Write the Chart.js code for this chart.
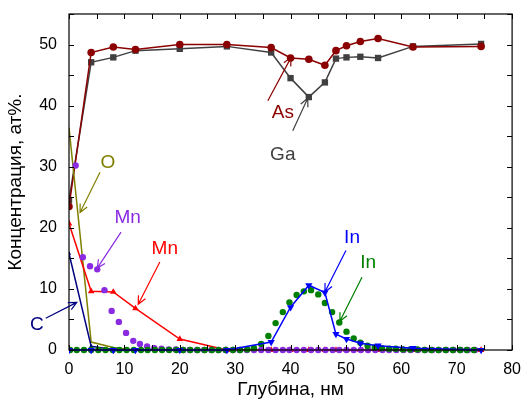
<!DOCTYPE html>
<html>
<head>
<meta charset="utf-8">
<script src="https://cdn.jsdelivr.net/npm/chart.js@4"></script>
<style>
  html, body { margin: 0; padding: 0; background: #fff; }
  #wrap { width: 523px; height: 405px; }
</style>
</head>
<body>
<div id="wrap"><canvas id="chart" width="523" height="405"></canvas></div>
<script>
// depth grid (nm) for the line series
const depth = [0, 4, 8, 12, 20, 28.5, 36.5, 40, 43.3, 46.2, 48.2, 50.1, 52.6, 55.8, 62.1, 74.4];
const asVals = [23.5, 48.7, 49.6, 49.2, 50.0, 50.0, 49.5, 47.8, 47.6, 46.6, 49.0, 49.8, 50.5, 51.0, 49.6, 49.7];
const gaVals = [24.5, 47.1, 47.9, 49.0, 49.3, 49.7, 48.7, 44.5, 41.4, 43.8, 47.7, 47.9, 48.0, 47.8, 49.7, 50.1];
const mnLine = [20.7, 9.6, 9.5, 6.8, 1.8, 0, 0, 0, 0, 0, 0, 0, 0, 0, 0, 0];
const inLine = [0, 0, 0, 0, 0, 0, 1.3, 7.0, 10.6, 9.4, 2.6, 1.8, 1.1, 0.7, 0.3, 0.0];

const cDepth = [0, 4, 8, 12];
const cVals = [15.8, 0.6, 0.1, 0];
const oVals = [36.4, 1.3, 0.4, 0];

// dotted (simulated) profiles
const inDotX = [0.2, 1.4, 2.7, 4.0, 5.3, 6.6, 7.9, 9.1, 10.4, 11.7, 13.0, 14.2, 15.5, 16.8, 18.1, 19.4, 20.6, 21.9, 23.2, 24.5,
  25.8, 27.0, 28.3, 29.6, 30.9, 32.2, 33.4, 34.7, 36.0, 37.3, 38.6, 39.8, 41.1, 42.4, 43.7, 45.0, 46.2, 47.5, 48.8, 50.1,
  51.4, 52.6, 53.9, 55.2, 56.5, 57.8, 59.0, 60.3, 61.6, 62.9, 64.2, 65.4, 66.7, 68.0, 69.3, 70.6, 71.8, 73.1];
const inDotY = [0, 0, 0, 0, 0, 0, 0, 0, 0, 0, 0, 0, 0, 0, 0, 0, 0, 0, 0, 0,
  0, 0, 0, 0, 0, 0.1, 0.3, 1.0, 2.3, 4.4, 6.2, 7.8, 9.0, 9.6, 9.8, 9.1, 7.7, 6.2, 4.5, 3.0,
  1.9, 1.2, 0.7, 0.4, 0.3, 0.2, 0.2, 0.1, 0.1, 0.1, 0, 0, 0, 0, 0, 0, 0, 0];
const mnDotX = [1.2, 2.5, 3.8, 5.1, 6.4, 7.7, 9.0, 10.3, 11.6, 12.8, 14.1, 15.4, 16.7, 18.0, 19.3, 20.6, 21.8, 23.1, 24.4, 25.7,
  27.0, 28.3, 29.6, 30.8, 32.1, 33.4, 34.7, 36.0, 37.3, 38.6, 39.8, 41.1, 42.4, 43.7, 45.0, 46.3, 47.6, 48.8, 50.1, 51.4,
  52.7, 54.0, 55.3, 56.6, 57.8, 59.1, 60.4, 61.7, 63.0, 64.3, 65.6, 66.8, 68.1, 69.4, 70.7, 72.0, 73.3];
const mnDotY = [30.2, 15.2, 13.7, 13.2, 9.8, 6.4, 4.6, 2.8, 1.5, 1.0, 0.6, 0.3, 0.2, 0.1, 0.1, 0, 0, 0, 0, 0,
  0, 0, 0, 0, 0, 0, 0, 0, 0, 0, 0, 0, 0, 0, 0, 0, 0, 0, 0, 0,
  0, 0, 0, 0, 0, 0, 0, 0, 0, 0, 0, 0, 0, 0, 0, 0, 0];

const xTicks = [0, 10, 20, 30, 40, 50, 60, 70, 80];
const yTicks = [0, 10, 20, 30, 40, 50];

// text labels with arrows, in data units: [text, color, tx, ty, x1, y1, x2, y2]
const notes = [
  ['As', '#8b0000', 38.6, 38.9, 35.9, 40.8, 40.1, 47.9],
  ['Ga', '#404040', 38.6, 31.9, 40.4, 35.9, 43.1, 41.2],
  ['O',  '#808000', 7.0, 30.7, 5.6, 29.1, 2.0, 22.5],
  ['Mn', '#8a2be2', 10.6, 21.6, 9.4, 19.3, 5.1, 13.4],
  ['Mn', '#ff0000', 17.3, 16.5, 16.4, 14.4, 12.5, 7.5],
  ['C',  '#000080', -5.8, 4.1, -4.2, 5.2, 1.4, 7.8],
  ['In', '#0000ff', 51.1, 18.3, 50.0, 16.3, 46.2, 9.5],
  ['In', '#008000', 54.0, 14.2, 52.9, 11.9, 48.9, 4.7],
];

const FONT = '"Liberation Sans", Arial, sans-serif';
const CLIP = { left: 0, top: false, right: false, bottom: false };

function pts(xs, ys) { return ys.map((y, i) => ({ x: xs[i], y })); }

function lineSet(xs, ys, color, shape, r, extra) {
  return Object.assign({
    data: pts(xs, ys),
    showLine: true,
    borderColor: color,
    backgroundColor: color,
    borderWidth: 1.5,
    pointStyle: shape,
    pointRadius: r,
    pointBorderWidth: 0,
    clip: CLIP,
  }, extra || {});
}

// frame, inward ticks and annotations
const framePlugin = {
  id: 'frame',
  afterDraw(chart) {
    const { ctx, chartArea: a, scales } = chart;
    const sx = scales.x, sy = scales.y;
    ctx.save();
    ctx.strokeStyle = '#000';
    ctx.lineWidth = 1.2;
    ctx.strokeRect(a.left, a.top, a.right - a.left, a.bottom - a.top);
    ctx.lineWidth = 1;
    ctx.beginPath();
    for (let v = 0; v <= 80; v += 5) {
      const px = Math.round(sx.getPixelForValue(v)) + 0.5;
      ctx.moveTo(px, a.bottom); ctx.lineTo(px, a.bottom - 5);
      ctx.moveTo(px, a.top); ctx.lineTo(px, a.top + 5);
    }
    for (let v = 0; v <= 55; v += 5) {
      const py = Math.round(sy.getPixelForValue(v)) + 0.5;
      ctx.moveTo(a.left, py); ctx.lineTo(a.left + 5, py);
      ctx.moveTo(a.right, py); ctx.lineTo(a.right - 5, py);
    }
    ctx.stroke();

    ctx.font = '19px ' + FONT;
    ctx.textAlign = 'center';
    ctx.textBaseline = 'middle';
    notes.forEach(([t, col, tx, ty, x1, y1, x2, y2]) => {
      ctx.fillStyle = col;
      ctx.strokeStyle = col;
      ctx.fillText(t, sx.getPixelForValue(tx), sy.getPixelForValue(ty));
      const p1x = sx.getPixelForValue(x1), p1y = sy.getPixelForValue(y1);
      const p2x = sx.getPixelForValue(x2), p2y = sy.getPixelForValue(y2);
      const ang = Math.atan2(p2y - p1y, p2x - p1x);
      ctx.lineWidth = 1.2;
      ctx.beginPath();
      ctx.moveTo(p1x, p1y); ctx.lineTo(p2x, p2y);
      ctx.moveTo(p2x - 9 * Math.cos(ang - 0.45), p2y - 9 * Math.sin(ang - 0.45));
      ctx.lineTo(p2x, p2y);
      ctx.lineTo(p2x - 9 * Math.cos(ang + 0.45), p2y - 9 * Math.sin(ang + 0.45));
      ctx.stroke();
    });
    ctx.restore();
  }
};

new Chart(document.getElementById('chart'), {
  type: 'scatter',
  data: {
    datasets: [
      lineSet(depth, inLine, '#0000ff', 'triangle', 4.2, { rotation: 180 }),
      { data: pts(inDotX, inDotY), backgroundColor: '#008000', borderWidth: 0, pointRadius: 3.2, clip: CLIP },
      { data: pts(mnDotX, mnDotY), backgroundColor: '#8a2be2', borderWidth: 0, pointRadius: 3.2, clip: CLIP },
      lineSet(depth, mnLine, '#ff0000', 'triangle', 3.8),
      lineSet(cDepth, cVals, '#000080', 'triangle', 2.5),
      lineSet(cDepth, oVals, '#808000', 'circle', 0),
      lineSet(depth, asVals, '#8b0000', 'circle', 3.8),
      lineSet(depth, gaVals, '#404040', 'rect', 4.5),
    ]
  },
  options: {
    responsive: false,
    animation: false,
    layout: { padding: { top: 14, right: 10, left: 0, bottom: 0 } },
    plugins: { legend: { display: false }, tooltip: { enabled: false } },
    scales: {
      x: {
        type: 'linear', min: 0, max: 80,
        afterBuildTicks: s => { s.ticks = xTicks.map(v => ({ value: v })); },
        afterFit: s => { s.height = 55; },
        grid: { display: false },
        border: { display: false },
        ticks: { color: '#000', font: { family: FONT, size: 16 }, padding: 2, maxRotation: 0 },
        title: { display: true, text: 'Глубина, нм', color: '#000', font: { family: FONT, size: 19 }, padding: { top: 5 } },
      },
      y: {
        type: 'linear', min: 0, max: 55,
        afterBuildTicks: s => { s.ticks = yTicks.map(v => ({ value: v })); },
        afterFit: s => { s.width = 69; },
        grid: { display: false },
        border: { display: false },
        ticks: { color: '#000', font: { family: FONT, size: 16 }, padding: 4 },
        title: { display: true, text: 'Концентрация, ат%.', color: '#000', font: { family: FONT, size: 19 }, padding: { bottom: 2 } },
      },
    },
  },
  plugins: [framePlugin],
});
</script>
</body>
</html>
